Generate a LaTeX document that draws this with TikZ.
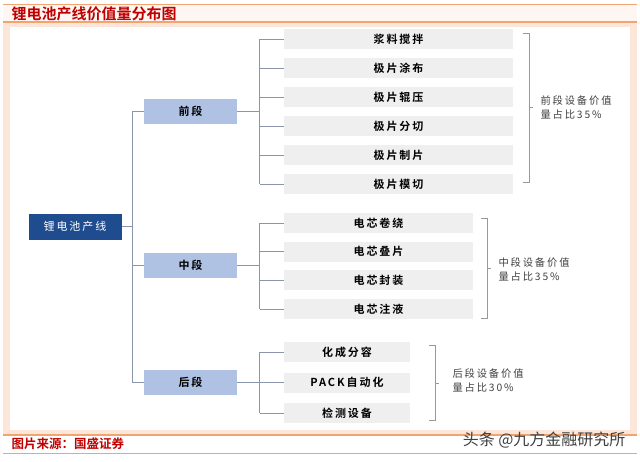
\documentclass[tikz,border=0pt]{standalone}
\usepackage{fontspec}
\newfontfamily\cjk{Noto Sans CJK SC}[BoldFont={Noto Sans CJK SC Bold}]
\newfontfamily\cjkwide{Noto Sans CJK SC}[LetterSpace=18,BoldFont={Noto Sans CJK SC Bold}]
\definecolor{titlered}{HTML}{C00000}
\definecolor{barorange}{HTML}{F2A46F}
\definecolor{peach}{HTML}{FCE6DA}
\definecolor{rootblue}{HTML}{1F4C8F}
\definecolor{stageblue}{HTML}{AFC2E3}
\definecolor{itemgray}{HTML}{EFEFEF}
\definecolor{linkgray}{HTML}{8A97AB}
\tikzset{
  root/.style={fill=rootblue,text=white,minimum width=93pt,minimum height=26pt,inner sep=0pt,font=\cjkwide\fontsize{11}{11}\selectfont},
  stage/.style={fill=stageblue,minimum width=93pt,minimum height=25pt,inner sep=0pt,font=\cjkwide\bfseries\fontsize{11}{11}\selectfont},
  item/.style={fill=itemgray,minimum height=20pt,inner sep=0pt,font=\cjkwide\bfseries\fontsize{11}{11}\selectfont},
  link/.style={draw=linkgray,line width=1pt},
  brace/.style={draw=black!40,line width=0.7pt},
  share/.style={anchor=west,align=left,text=black!75,font=\cjkwide\fontsize{10.3}{14}\selectfont}
}
\begin{document}
\begin{tikzpicture}[x=1pt,y=-1pt]
	\useasboundingbox (0,0) rectangle (640,461);
	% frame
	\fill[peach!35] (3,4) rectangle (637,22);
	\fill[peach] (3,22) rectangle (637,435);
	\fill[white] (10,27) rectangle (630,430);
	\draw[barorange,line width=1pt] (3,4) -- (637,4);
	\draw[barorange,line width=1.8pt] (3,22) -- (637,22);
	\draw[barorange,line width=1.8pt] (3,435) -- (637,435);
	\draw[barorange,line width=1pt] (3,453) -- (637,453);
	\node[anchor=west,text=titlered,font=\cjk\bfseries\fontsize{15}{15}\selectfont] (title) at (8,13.5) {锂电池产线价值量分布图};
	\node[anchor=west,text=titlered,font=\cjk\bfseries\fontsize{12.5}{12.5}\selectfont] (source) at (8,444) {图片来源：国盛证券};
	\node[anchor=east,text=black!75,font=\cjk\fontsize{16}{16}\selectfont] (mark) at (629,440) {头条 @九方金融研究所};
	% tree
	\node[root] (line) at (75,226.5) {锂电池产线};
	\node[stage] (front) at (190.5,111.5) {前段};
	\node[stage] (mid) at (190.5,265.5) {中段};
	\node[stage] (back) at (190.5,382.5) {后段};
	\foreach \t [count=\i] in {浆料搅拌,极片涂布,极片辊压,极片分切,极片制片,极片模切}
		\node[item,minimum width=229pt] (f\i) at (398.5,{10+29*\i}) {\t};
	\foreach \t [count=\i] in {电芯卷绕,电芯叠片,电芯封装,电芯注液}
		\node[item,minimum width=189pt] (m\i) at (378.5,{194.3+28.7*\i}) {\t};
	\foreach \t [count=\i] in {化成分容,PACK自动化,检测设备}
		\node[item,minimum width=126pt] (b\i) at (347,{321.5+30.5*\i}) {\t};
	% connectors
	\draw[link] (front.west) -- ++(-11,0) coordinate (top) |- (back.west);
	\draw[link] (mid.west) -- (mid.west -| top);
	\draw[link] (line.east) -- (line.east -| top);
	\foreach \i in {1,...,6}
		\draw[link] (f\i.west) -- ++(-24,0) coordinate (fs\i);
	\draw[link] (fs1) -- (fs6);
	\draw[link] (front.east) -- (front.east -| fs1);
	\foreach \i in {1,...,4}
		\draw[link] (m\i.west) -- ++(-24,0) coordinate (ms\i);
	\draw[link] (ms1) -- (ms4);
	\draw[link] (mid.east) -- (mid.east -| ms1);
	\foreach \i in {1,...,3}
		\draw[link] (b\i.west) -- ++(-24,0) coordinate (bs\i);
	\draw[link] (bs1) -- (bs3);
	\draw[link] (back.east) -- (back.east -| bs1);
	% shares
	\draw[brace] (523,33) -- (529,33) -- (529,182) -- (523,182);
	\draw[brace] (529,107.5) -- (533,107.5);
	\node[share] (fshare) at (537,107.5) {前段设备价值\\量占比35\%};
	\draw[brace] (481,218) -- (487,218) -- (487,318) -- (481,318);
	\draw[brace] (487,268) -- (491,268);
	\node[share] (mshare) at (495,270) {中段设备价值\\量占比35\%};
	\draw[brace] (429,345) -- (435,345) -- (435,420) -- (429,420);
	\draw[brace] (435,383) -- (439,383);
	\node[share] (bshare) at (449,381) {后段设备价值\\量占比30\%};
\end{tikzpicture}
\end{document}
